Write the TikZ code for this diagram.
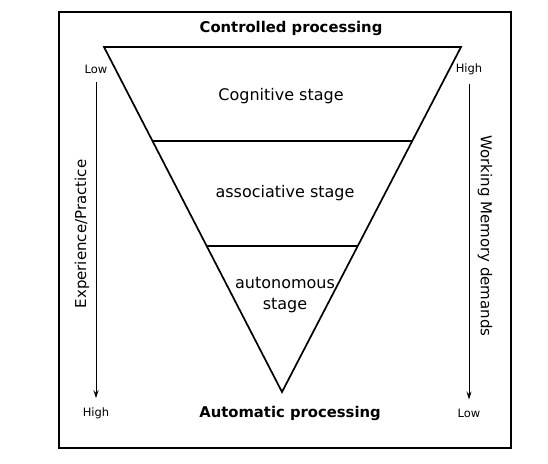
\documentclass[tikz,border=0pt]{standalone}
\usepackage{fontspec}
\setmainfont{DejaVu Sans}
\usetikzlibrary{arrows.meta}
\begin{document}
\begin{tikzpicture}[x=1pt,y=-1pt,
  stage/.style={font=\fontsize{16}{21}\selectfont,align=center},
  heading/.style={font=\bfseries\fontsize{14.8}{18}\selectfont},
  side/.style={font=\fontsize{15}{18}\selectfont},
  endlabel/.style={font=\fontsize{11.5}{13}\selectfont,inner sep=0pt},
  scale arrow/.style={line width=1pt,-{Stealth[length=8pt,width=5pt]},shorten <=9pt,shorten >=9pt}]
\useasboundingbox (0,0) rectangle (548,463);
% the frame
\draw[line width=1.6pt] (59,12) rectangle (511,448);
% the inverted triangle and its two cuts
\draw[line width=1.7pt,line join=miter] (104,47) -- (461,47) -- (282,392) -- cycle;
\draw[line width=1.7pt] (153,141) -- (413,141);
\draw[line width=1.7pt] (207,246) -- (358,246);
% the headings
\node[heading] (ctrl) at (291,28) {Controlled processing};
\node[heading] (auto) at (290,413) {Automatic processing};
% the three stages
\node[stage] (cog) at (281,96) {Cognitive stage};
\node[stage] (ass) at (285,193) {associative stage};
\node[stage] (aut) at (285,295) {autonomous\\stage};
% the two scales at the sides
\node[endlabel] (lowL) at (96,69) {Low};
\node[endlabel] (highL) at (96,413) {High};
\node[endlabel] (highR) at (469,69) {High};
\node[endlabel] (lowR) at (469,413) {Low};
\draw[scale arrow] (lowL) -- (highL);
\draw[scale arrow] (highR) -- (lowR);
\node[side,rotate=90] (exp) at (82,234) {Experience/Practice};
\node[side,rotate=-90] (wm) at (485,236) {Working Memory demands};
\end{tikzpicture}
\end{document}
